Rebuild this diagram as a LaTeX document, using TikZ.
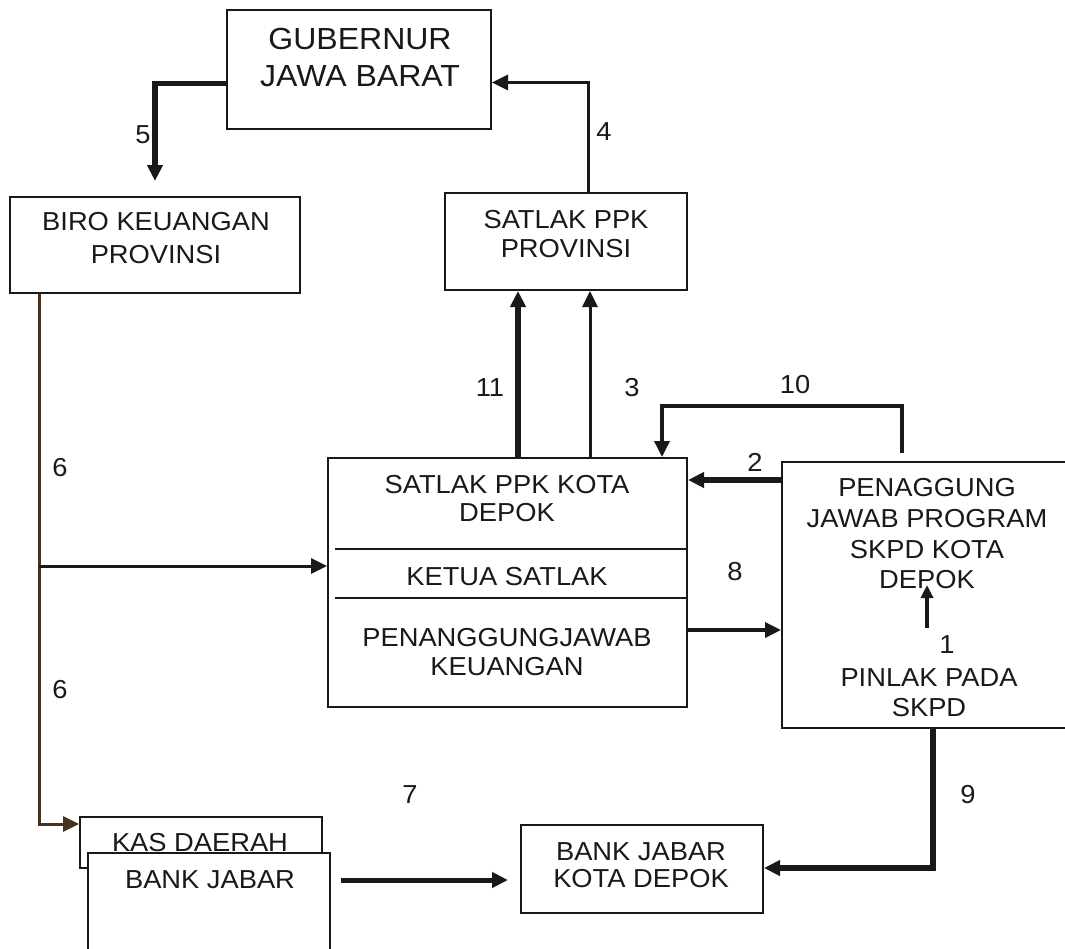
\documentclass[tikz,border=0pt]{standalone}
\usepackage{fontspec}
\setmainfont[FakeStretch=1.05]{Liberation Sans}
\usetikzlibrary{arrows.meta}
\definecolor{ink}{RGB}{25,25,25}
\definecolor{brownink}{RGB}{70,50,30}
\begin{document}
\begin{tikzpicture}[x=1pt,y=-1pt,
  box/.style={draw=ink, line width=2pt, fill=white, inner sep=0pt},
  txt/.style={inner sep=0pt, align=center, text=ink, font=\fontsize{26}{30}\selectfont},
  lbl/.style={inner sep=0pt, text=ink, font=\fontsize{26}{30}\selectfont},
  arrowtip/.style={-{Triangle[length=16pt,width=15pt]}},
  conn/.style={draw=ink, line width=3.5pt, arrowtip},
  heavy/.style={draw=ink, line width=5.5pt, arrowtip},
]
\useasboundingbox (0,0) rectangle (1065,948);
\clip (0,0) rectangle (1065,948);
\fill[white] (0,0) rectangle (1065,948);

% boxes
\node[box, minimum width=264pt, minimum height=119pt] (gub) at (359,69.5) {};
\node[box, minimum width=290pt, minimum height=96pt] (biro) at (155,245) {};
\node[box, minimum width=242pt, minimum height=97pt] (satprov) at (566,241.5) {};
\node[box, minimum width=359pt, minimum height=249pt] (satkota) at (507.5,582.5) {};
\node[box, minimum width=290pt, minimum height=266pt] (penag) at (927,595) {};
\node[box, minimum width=242pt, minimum height=51pt] (kas) at (201,842.5) {};
\node[txt] (tkas) at (200,843) {KAS DAERAH};
\node[box, minimum width=242pt, minimum height=110pt] (bank) at (209,908) {};
\node[box, minimum width=242pt, minimum height=88pt] (bankkota) at (642,869) {};

% dividers in satkota
\draw[ink, line width=2pt] ([xshift=8pt,yshift=33.5pt]satkota.west) -- ([yshift=33.5pt]satkota.east);
\draw[ink, line width=2pt] ([xshift=8pt,yshift=-15.5pt]satkota.west) -- ([yshift=-15.5pt]satkota.east);

% texts
\node[txt, font=\fontsize{30.5}{37}\selectfont] (tgub) at (360,57.5) {GUBERNUR\\JAWA BARAT};
\node[txt, font=\fontsize{26}{33}\selectfont] (tbiro) at (156,238) {BIRO KEUANGAN\\PROVINSI};
\node[txt, font=\fontsize{26}{29.5}\selectfont] (tsatprov) at (566,234) {SATLAK PPK\\PROVINSI};
\node[txt, font=\fontsize{26}{28}\selectfont] (tsk1) at (507,499) {SATLAK PPK KOTA\\DEPOK};
\node[txt] (tsk2) at (507,577) {KETUA SATLAK};
\node[txt, font=\fontsize{26}{29}\selectfont] (tsk3) at (507,652.5) {PENANGGUNGJAWAB\\KEUANGAN};
\node[txt, font=\fontsize{26}{30.8}\selectfont] (tpen) at (927,533.75) {PENAGGUNG\\JAWAB PROGRAM\\SKPD KOTA\\DEPOK};
\node[lbl] (one) at (947,645) {1};
\node[txt] (tpin) at (929,693) {PINLAK PADA\\SKPD};
\node[txt] (tbank) at (210,880) {BANK JABAR};
\node[txt, font=\fontsize{26}{27}\selectfont] (tbk) at (641,865.5) {BANK JABAR\\KOTA DEPOK};

% arrow 1 inside penag
\draw[draw=ink, line width=3.5pt, -{Triangle[length=13pt,width=12pt]}] ([yshift=-33pt]penag.center) -- ([yshift=10pt]penag.center);

% arrow 4
\coordinate (p4) at ([xshift=22pt]satprov.north);
\coordinate (q4) at ([yshift=-13pt]gub.east);
\draw[conn, line width=3pt] (p4) |- (q4);
% arrow 5
\coordinate (p5) at ([yshift=-14pt]gub.west);
\coordinate (q5) at ([yshift=15pt]biro.north);
\draw[heavy] (p5) -| (q5);
% arrow 11
\coordinate (p11) at ([xshift=10.5pt]satkota.north);
\draw[heavy] (p11) -- (p11 |- satprov.south);
% arrow 3
\coordinate (p3) at ([xshift=82.5pt]satkota.north);
\draw[conn, line width=3pt] (p3) -- (p3 |- satprov.south);
% arrow 10
\coordinate (p10) at ([xshift=-25pt,yshift=8pt]penag.north);
\coordinate (m10) at ([xshift=-25pt,yshift=55pt]penag.north);
\coordinate (q10) at ([xshift=154.5pt]satkota.north);
\draw[conn] (p10) -- (m10) -| (q10);
% arrow 2
\coordinate (p2) at ([yshift=115pt]penag.west);
\draw[heavy] (p2) -- (p2 -| satkota.east);
% arrow 8
\coordinate (p8) at ([yshift=-47.5pt]satkota.east);
\draw[conn] (p8) -- (p8 -| penag.west);
% arrow 9
\coordinate (p9) at ([xshift=6pt]penag.south);
\coordinate (q9) at ([yshift=1pt]bankkota.east);
\draw[heavy] (p9) |- (q9);
% arrow 7
\coordinate (p7) at ([xshift=10pt,yshift=28pt]bank.east);
\draw[heavy, line width=5pt, shorten >=12pt] (p7) -- (p7 -| bankkota.west);
% line 6
\coordinate (p6) at ([xshift=-116pt]biro.south);
\coordinate (q6) at ([yshift=18.5pt]kas.west);
\draw[conn, draw=brownink, line width=3pt] (p6) |- (q6);
\coordinate (s6) at ([yshift=16.5pt]satkota.west);
\draw[conn, line width=3pt] (p6 |- s6) -- (s6);

% labels
\node[lbl] (l5) at (143,135) {5};
\node[lbl] (l4) at (604,132) {4};
\node[lbl] (l11) at (490,388) {11};
\node[lbl] (l3) at (632,388) {3};
\node[lbl] (l10) at (795,385) {10};
\node[lbl] (l2) at (755,462) {2};
\node[lbl] (l8) at (735,572) {8};
\node[lbl] (l6a) at (60,468) {6};
\node[lbl] (l6b) at (60,690) {6};
\node[lbl] (l7) at (410,795) {7};
\node[lbl] (l9) at (968,795) {9};
\end{tikzpicture}
\end{document}
